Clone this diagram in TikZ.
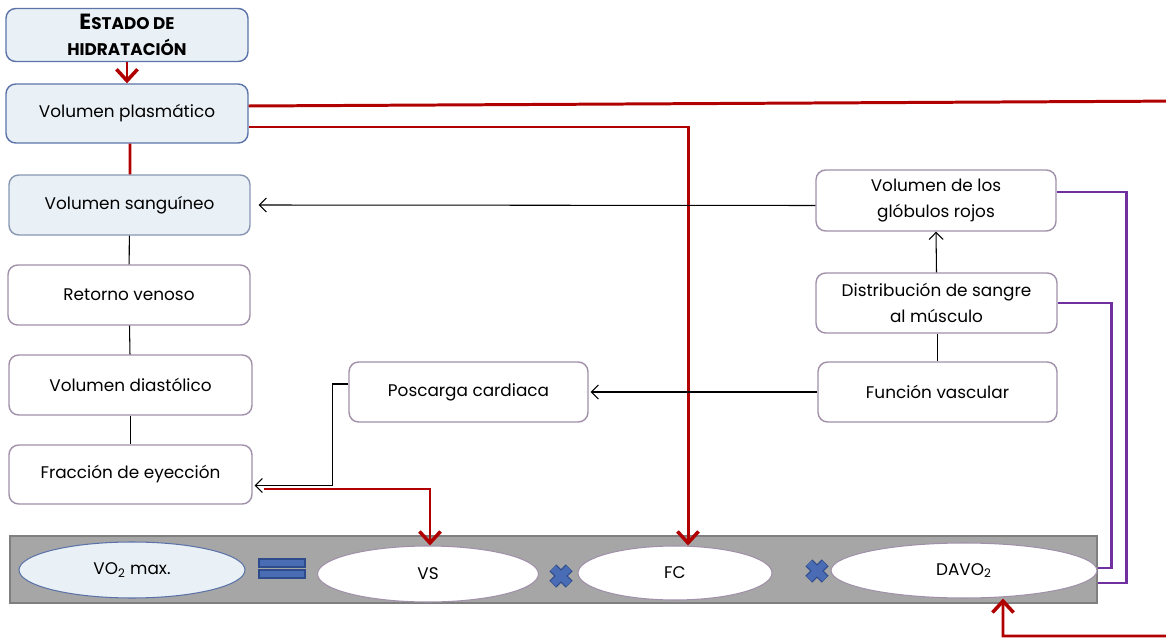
\documentclass[tikz,border=0pt]{standalone}
\usepackage{fontspec}
\setmainfont{Poppins}
\usetikzlibrary{arrows.meta, shapes.geometric}

\definecolor{bluefill}{HTML}{EAF1F6}
\definecolor{blueedge}{HTML}{5B73A8}
\definecolor{greyblueedge}{HTML}{8797B3}
\definecolor{mauveedge}{HTML}{A190A9}
\definecolor{darkred}{HTML}{B00000}
\definecolor{purpleline}{HTML}{7030A0}
\definecolor{barfill}{HTML}{A6A6A6}
\definecolor{baredge}{HTML}{7F7F7F}
\definecolor{signfill}{HTML}{4A6CB4}
\definecolor{signedge}{HTML}{2E4C8C}

\begin{document}
\begin{tikzpicture}[x=0.02cm, y=-0.02cm,
    box/.style={draw=mauveedge, line width=0.8pt, rounded corners=5.5pt, fill=white,
        inner sep=0pt, align=center, font=\fontsize{9.6}{14.5}\selectfont},
    bluebox/.style={box, draw=blueedge, fill=bluefill},
    oval/.style={ellipse, draw=mauveedge, line width=0.6pt, fill=white,
        inner sep=0pt, font=\fontsize{9.6}{12}\selectfont},
    redline/.style={darkred, line width=1.7pt},
    redarrow/.style={redline, -{Straight Barb[length=6.5pt, width=12pt, line width=2pt]}},
    violetline/.style={purpleline, line width=1.4pt},
    link/.style={black, line width=0.6pt},
    linkarrow/.style={link, -{Straight Barb[length=4pt, width=8pt]}},
    eqbar/.style={draw=signedge, fill=signfill, line width=0.6pt, inner sep=0pt,
        minimum width=0.92cm, minimum height=0.16cm},
    crossedge/.style={signedge, line width=5.5pt},
    crossfill/.style={signfill, line width=4.2pt}]

    % ---- Frame ----
    \useasboundingbox (0,0) rectangle (1166,638);
    \clip (0,0) rectangle (1166,638);

    % ---- Left column ----
    \node[bluebox, minimum width=4.84cm, minimum height=1.06cm] (estado) at (127,35)
        {\bfseries\fontsize{12.5}{15}\selectfont E\fontsize{9.6}{15}\selectfont STADO DE\\
         \bfseries\fontsize{9.6}{15}\selectfont HIDRATACIÓN};
    \node[bluebox, minimum width=4.84cm, minimum height=1.18cm] (plasma) at (127,113.5)
        {Volumen plasmático};
    \node[bluebox, draw=greyblueedge, minimum width=4.82cm, minimum height=1.2cm] (sangre) at (129.5,205)
        {Volumen sanguíneo};
    \node[box, minimum width=4.84cm, minimum height=1.2cm] (retorno) at (129,295)
        {Retorno venoso};
    \node[box, minimum width=4.86cm, minimum height=1.2cm] (diastole) at (130.5,385)
        {Volumen diastólico};
    \node[box, minimum width=4.86cm, minimum height=1.18cm] (eyeccion) at (130.5,474.5)
        {Fracción de eyección};

    % ---- Middle / right column ----
    \node[box, minimum width=4.78cm, minimum height=1.2cm] (poscarga) at (468.5,392)
        {Poscarga cardiaca};
    \node[box, minimum width=4.8cm, minimum height=1.22cm] (globulos) at (936,200.5)
        {Volumen de los\\glóbulos rojos};
    \node[box, minimum width=4.82cm, minimum height=1.2cm] (musculo) at (936.5,303)
        {Distribución de sangre\\al músculo};
    \node[box, minimum width=4.78cm, minimum height=1.2cm] (vascular) at (937.5,392)
        {Función vascular};

    % ---- Equation bar ----
    \draw[fill=barfill, draw=baredge, line width=1pt] (10,536) rectangle (1097,603);
    \node[oval, draw=blueedge, fill=bluefill, minimum width=4.52cm, minimum height=1.12cm] (vomax) at (132,570)
        {VO\textsubscript{2} max.};
    \node[eqbar] (eqtop) at (282,563) {};
    \node[eqbar] (eqbot) at (282,574) {};
    \node[oval, minimum width=4.42cm, minimum height=1.12cm] (vs) at (428,574) {VS};
    \coordinate (timesA) at (561,576);
    \node[oval, minimum width=3.88cm, minimum height=1.08cm] (fc) at (675,573) {FC};
    \coordinate (timesB) at (817,571);
    \node[oval, minimum width=5.32cm, minimum height=1.1cm] (davo) at (964,570.5)
        {DAVO\textsubscript{2}};

    % multiplication signs
    \foreach \c in {timesA, timesB}{
        \draw[crossedge] ([shift={(45:0.23cm)}]\c) -- ([shift={(225:0.23cm)}]\c);
        \draw[crossedge] ([shift={(135:0.23cm)}]\c) -- ([shift={(315:0.23cm)}]\c);
        \draw[crossfill] ([shift={(45:0.22cm)}]\c) -- ([shift={(225:0.22cm)}]\c);
        \draw[crossfill] ([shift={(135:0.22cm)}]\c) -- ([shift={(315:0.22cm)}]\c);
    }

    % ---- Red connectors ----
    \draw[redarrow] (estado) -- (plasma);
    \draw[redline] ([xshift=0.06cm]plasma.south) -- ([xshift=0.01cm]sangre.north);
    \draw[redarrow] ([yshift=-0.27cm]plasma.east) -| ([xshift=0.26cm]fc.north);
    \draw[redarrow] ([shift={(0.22cm,-0.29cm)}]eyeccion.east) -| ([xshift=0.04cm]vs.north);
    \coordinate (farA) at (1190,101);
    \coordinate (farB) at (1190,636);
    \draw[redarrow] ([yshift=0.15cm]plasma.east) -- (farA) -- (farB)
        -| ([xshift=0.78cm]davo.south);

    % ---- Black connectors ----
    \draw[link] (sangre) -- (retorno);
    \draw[link] (retorno) -- (diastole);
    \draw[link] (diastole) -- (eyeccion);
    \draw[linkarrow] ([yshift=-0.1cm]globulos.west) -- ([xshift=0.16cm]sangre.east);
    \draw[linkarrow] (musculo.north) -- (globulos.south);
    \draw[link] (vascular.north) -- (vascular.north |- musculo.south);
    \draw[linkarrow] (vascular.west) -- ([xshift=0.04cm]poscarga.east);
    \draw[linkarrow] ([yshift=0.16cm]poscarga.west) -- ++(-0.32cm,0) |- ([shift={(0.04cm,-0.22cm)}]eyeccion.east);

    % ---- Purple connectors ----
    \draw[violetline] ([yshift=0.17cm]globulos.east) -- ++(1.4cm,0) |- ([yshift=-0.25cm]davo.east);
    \draw[violetline] (musculo.east) -- ++(1.08cm,0) |- ([yshift=0.05cm]davo.east);

\end{tikzpicture}
\end{document}
